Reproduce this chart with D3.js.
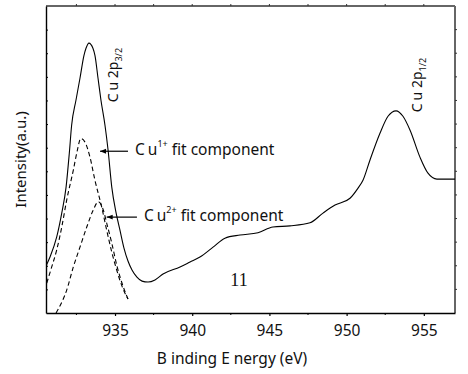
<!DOCTYPE html>
<html>
<head>
<meta charset="utf-8">
<script src="https://cdn.jsdelivr.net/npm/d3@7"></script>
<style>
  body { margin: 0; background: #fff; }
  text { font-family: "Noto Sans", "Open Sans", sans-serif; fill: #111; }
</style>
</head>
<body>
<svg id="chart"></svg>
<script>
// Cu 2p spectrum (binding energy in eV, intensity in arbitrary units)
const mainE = [930.53, 930.79, 931.22, 931.55, 931.83, 932.04, 932.19, 932.47, 932.73, 932.99, 933.12, 933.31,
  933.57, 933.70, 933.90, 934.09, 934.35, 934.55, 934.79, 935.06, 935.32, 935.58, 935.84, 936.10, 936.42,
  936.75, 937.14, 937.59, 938.11, 939.21, 939.86, 940.50, 941.35, 942.12, 943.10, 944.26, 945.23, 946.33,
  947.63, 948.47, 949.25, 950.22, 950.74, 951.06, 951.51, 952.16, 952.68, 953.20, 953.65, 954.11, 954.75,
  955.27, 955.85, 957.02];
const mainI = [1.99, 2.37, 3.21, 4.23, 5.33, 6.77, 7.95, 9.01, 9.94, 10.91, 11.21, 11.43,
  11.21, 10.91, 9.94, 9.01, 7.95, 6.90, 5.33, 4.27, 3.51, 2.75, 2.20, 1.82, 1.52,
  1.35, 1.31, 1.40, 1.65, 1.95, 2.16, 2.37, 2.79, 3.17, 3.30, 3.40, 3.64, 3.69,
  3.82, 4.23, 4.57, 4.86, 5.29, 5.62, 6.47, 7.61, 8.33, 8.56, 8.33, 7.74, 6.60,
  5.92, 5.67, 5.67];

// fit components
const cu1E = [930.58, 930.90, 931.22, 931.55, 931.87, 932.30, 932.56, 932.78, 933.06, 933.38, 933.70, 934.14,
  934.46, 934.79, 935.11, 935.45, 935.84];
const cu1I = [1.27, 1.95, 2.66, 3.64, 4.78, 6.05, 6.89, 7.39, 7.23, 6.60, 5.62, 4.48,
  3.51, 2.58, 1.82, 1.14, 0.59];
const cu2E = [931.18, 931.33, 931.87, 932.30, 932.73, 933.17, 933.59, 933.92, 934.24, 934.46, 934.79, 935.11,
  935.45, 935.84];
const cu2I = [0.00, 0.17, 0.97, 1.95, 2.79, 3.64, 4.36, 4.71, 4.36, 3.81, 2.96, 2.03,
  1.27, 0.59];

const xTicks = [935, 940, 945, 950, 955];
const xMinor = [932.5, 937.5, 942.5, 947.5, 952.5];
const yTicks = d3.range(1, 13);

const width = 468, height = 374;
const margin = {top: 6, right: 13, bottom: 61, left: 46};
const w = width - margin.left - margin.right;
const h = height - margin.top - margin.bottom;

const svg = d3.select("#chart").attr("width", width).attr("height", height);
const g = svg.append("g").attr("transform", `translate(${margin.left},${margin.top})`);

const x = d3.scaleLinear().domain([930.53, 957.02]).range([0, w]);
const y = d3.scaleLinear().domain([0, 13]).range([h, 0]);

const defs = svg.append("defs");
defs.append("clipPath").attr("id", "clip")
  .append("rect").attr("width", w).attr("height", h);
defs.append("marker").attr("id", "arrow")
  .attr("viewBox", "0 0 10 10").attr("refX", 10).attr("refY", 5)
  .attr("markerWidth", 7).attr("markerHeight", 6).attr("orient", "auto")
  .attr("markerUnits", "userSpaceOnUse")
  .append("path").attr("d", "M0,1 L10,5 L0,9 Z").attr("fill", "#000");

// frame: top/right gray, bottom/left black
g.append("line").attr("x1", 0).attr("x2", w).attr("y1", 0).attr("y2", 0)
  .attr("stroke", "#666").attr("stroke-width", 2);
g.append("line").attr("x1", w).attr("x2", w).attr("y1", 0).attr("y2", h)
  .attr("stroke", "#666").attr("stroke-width", 2);

const xAxis = g.append("g").attr("transform", `translate(0,${h})`)
  .call(d3.axisBottom(x).tickValues(xTicks).tickSize(3).tickSizeOuter(0).tickFormat(d3.format("d")));
xAxis.select(".domain").attr("stroke", "#000").attr("stroke-width", 1.4);
xAxis.selectAll(".tick text").attr("font-size", 15.5).attr("dy", null).attr("y", 23)
  .style("font-family", "'Noto Sans', sans-serif").attr("fill", "#111");
xAxis.selectAll(".tick line").attr("stroke-width", 1.2);

g.append("g").attr("transform", `translate(0,${h})`)
  .selectAll("line").data(xMinor).join("line")
  .attr("x1", d => x(d)).attr("x2", d => x(d)).attr("y1", 0).attr("y2", 2)
  .attr("stroke", "#000");

// top ticks
g.append("g").selectAll("line").data(xTicks.concat(xMinor)).join("line")
  .attr("x1", d => x(d)).attr("x2", d => x(d)).attr("y1", 0).attr("y2", -2)
  .attr("stroke", "#333");

const yAxis = g.append("g")
  .call(d3.axisLeft(y).tickValues(yTicks).tickSize(-2).tickSizeOuter(0).tickFormat(""));
yAxis.select(".domain").attr("stroke", "#000").attr("stroke-width", 1.4);

g.append("g").selectAll("line").data(yTicks).join("line")
  .attr("x1", w).attr("x2", w + 2).attr("y1", d => y(d)).attr("y2", d => y(d))
  .attr("stroke", "#333");

const line = d3.line().x(d => x(d[0])).y(d => y(d[1])).curve(d3.curveMonotoneX);
const plot = g.append("g").attr("clip-path", "url(#clip)");

plot.append("path").datum(d3.zip(mainE, mainI)).attr("d", line)
  .attr("fill", "none").attr("stroke", "#000").attr("stroke-width", 1.1);
plot.append("path").datum(d3.zip(cu1E, cu1I)).attr("d", line)
  .attr("fill", "none").attr("stroke", "#000").attr("stroke-width", 1.1).attr("stroke-dasharray", "4.5,3");
plot.append("path").datum(d3.zip(cu2E, cu2I)).attr("d", line)
  .attr("fill", "none").attr("stroke", "#000").attr("stroke-width", 1.1).attr("stroke-dasharray", "4.5,3");

// peak labels (vertical)
function peakLabel(e, v, sub) {
  const t = g.append("text")
    .attr("transform", `translate(${x(e)},${y(v)}) rotate(-90)`)
    .attr("font-size", 14);
  t.append("tspan").text("C").attr("letter-spacing", 3);
  t.append("tspan").text("u 2p");
  t.append("tspan").text(sub).attr("font-size", 9).attr("dy", 4);
}
peakLabel(935.19, 8.92, "3/2");
peakLabel(954.88, 8.50, "1/2");

// fit component annotations
function component(eFrom, eTo, v, sup) {
  g.append("line")
    .attr("x1", x(eFrom)).attr("x2", x(eTo)).attr("y1", y(v)).attr("y2", y(v))
    .attr("stroke", "#000").attr("stroke-width", 1.2).attr("marker-end", "url(#arrow)");
  const t = g.append("text").attr("x", x(eFrom) + 7).attr("y", y(v) + 4).attr("font-size", 15.5);
  t.append("tspan").text("C").attr("letter-spacing", 3);
  t.append("tspan").text("u");
  t.append("tspan").text(sup).attr("font-size", 9).attr("dy", -8);
  t.append("tspan").text(" fit component").attr("dy", 8);
}
component(935.84, 934.03, 6.85, "1+");
component(936.42, 934.46, 4.06, "2+");

g.append("text").attr("x", x(943.03)).attr("y", y(1.14))
  .attr("text-anchor", "middle").attr("font-size", 18)
  .style("font-family", "'Liberation Serif', serif").text("11");

const xl = svg.append("text").attr("x", 232).attr("y", 364).attr("text-anchor", "middle")
  .attr("font-size", 15.5);
xl.append("tspan").text("B").attr("letter-spacing", 4);
xl.append("tspan").text("inding ");
xl.append("tspan").text("E").attr("letter-spacing", 4);
xl.append("tspan").text("nergy (eV)");
svg.append("text").attr("transform", `translate(26,${margin.top + h / 2}) rotate(-90)`)
  .attr("text-anchor", "middle").attr("font-size", 15).text("Intensity(a.u.)");
</script>
</body>
</html>
